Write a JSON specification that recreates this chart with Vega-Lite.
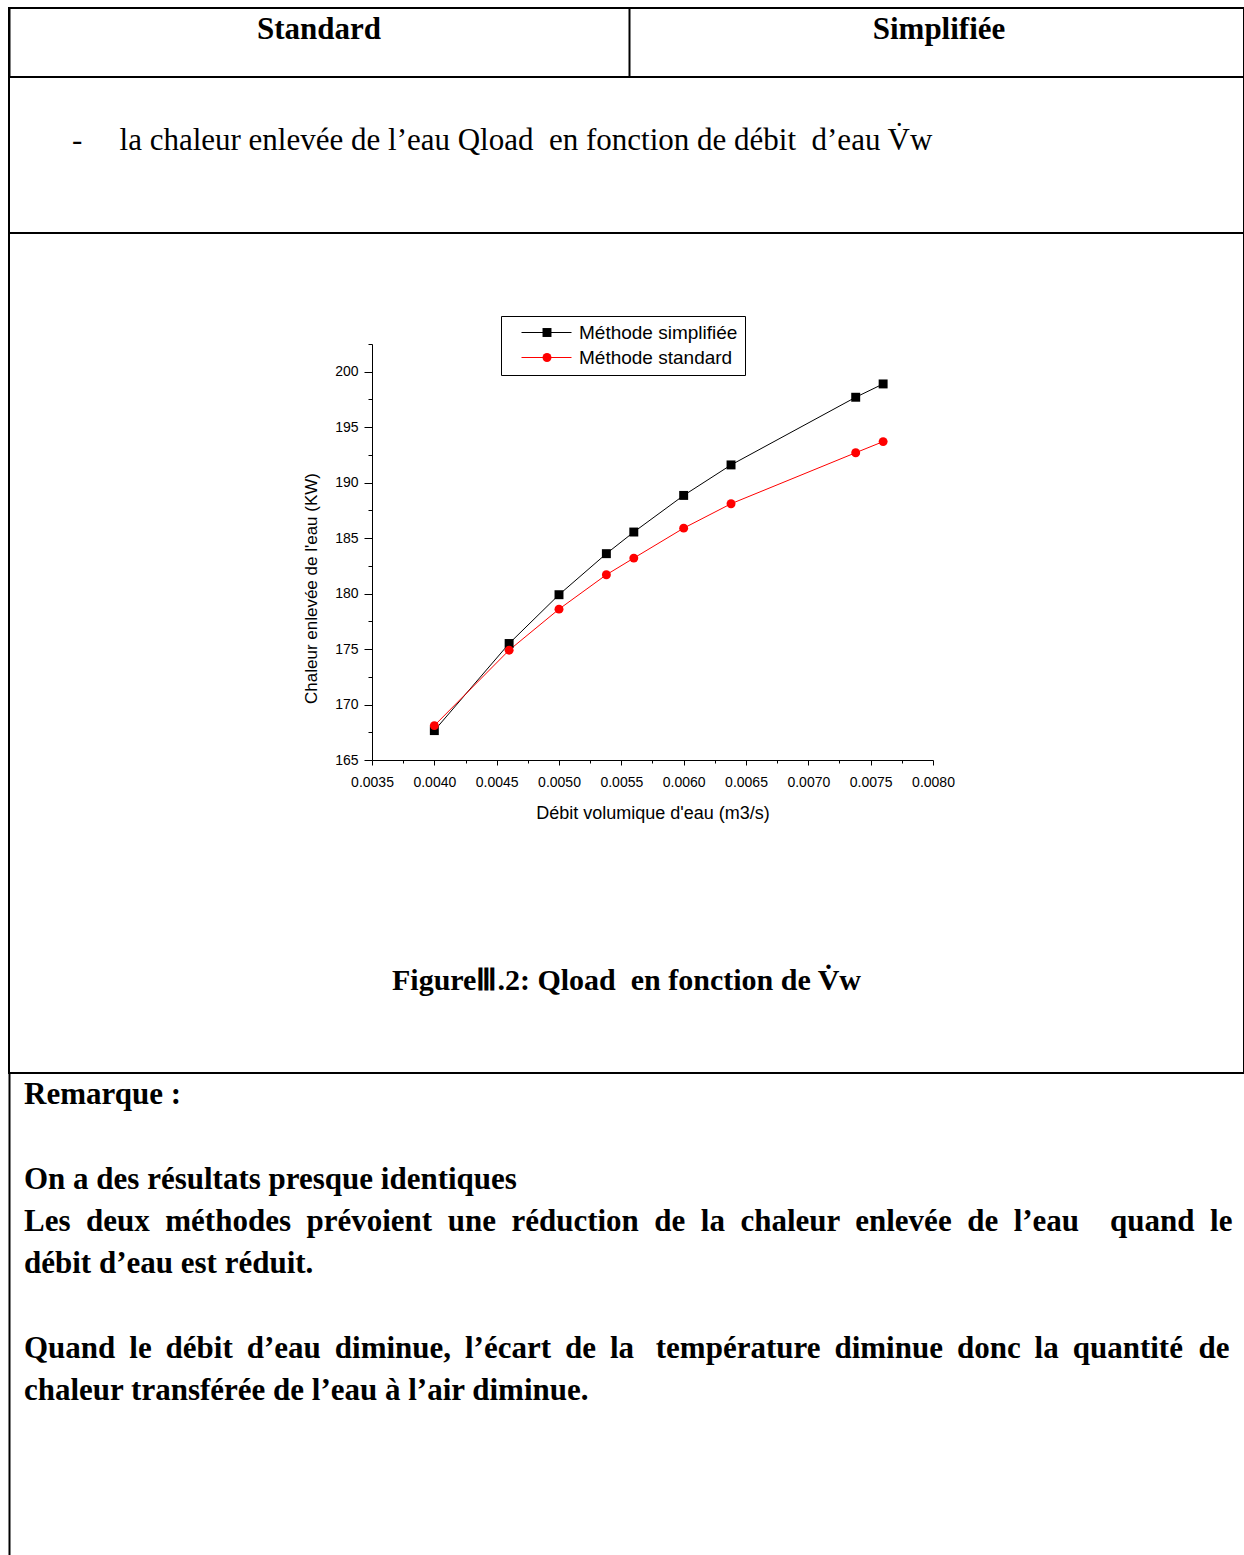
{
  "$schema": "https://vega.github.io/schema/vega-lite/v6.json",
  "background": "white",
  "padding": {"left": 8, "top": 7, "right": 0, "bottom": 0},
  "spacing": 0,
  "bounds": "flush",
  "config": {
    "view": {"stroke": "black", "strokeWidth": 2},
    "concat": {"spacing": 0}
  },
  "vconcat": [
    {
      "width": 1235,
      "height": 69,
      "data": {"values": [{"entete": "Standard"}, {"entete": "Simplifiée"}]},
      "mark": {"type": "text", "font": "Liberation Serif", "fontSize": 31, "fontWeight": "bold", "color": "black", "baseline": "alphabetic", "align": "center"},
      "encoding": {
        "text": {"field": "entete"},
        "x": {
          "field": "entete",
          "type": "nominal",
          "sort": null,
          "scale": {"type": "band", "range": [0, 1240], "paddingInner": 0, "paddingOuter": 0},
          "axis": {"orient": "top", "grid": true, "bandPosition": 0, "gridColor": "black", "gridWidth": 2, "gridOpacity": 1, "labels": false, "ticks": false, "domain": false, "title": null}
        },
        "y": {"value": 31}
      }
    },
    {
      "width": 1235,
      "height": 156,
      "data": {"values": [{"phrase": "-\u2003\u2009la chaleur enlevée de l’eau Qload \u00a0en fonction de débit \u00a0d’eau V\u0307w"}]},
      "mark": {"type": "text", "font": "Liberation Serif", "fontSize": 31, "color": "black", "baseline": "alphabetic", "align": "left"},
      "encoding": {"text": {"field": "phrase"}, "x": {"value": 63}, "y": {"value": 73}}
    },
    {
      "width": 1235,
      "height": 840,
      "data": {
        "values": [
          {"debit": 0.0040, "chaleur": 167.65, "methode": "Méthode simplifiée"},
          {"debit": 0.0046, "chaleur": 175.5, "methode": "Méthode simplifiée"},
          {"debit": 0.0050, "chaleur": 179.9, "methode": "Méthode simplifiée"},
          {"debit": 0.00538, "chaleur": 183.6, "methode": "Méthode simplifiée"},
          {"debit": 0.0056, "chaleur": 185.55, "methode": "Méthode simplifiée"},
          {"debit": 0.0060, "chaleur": 188.85, "methode": "Méthode simplifiée"},
          {"debit": 0.00638, "chaleur": 191.6, "methode": "Méthode simplifiée"},
          {"debit": 0.00738, "chaleur": 197.7, "methode": "Méthode simplifiée"},
          {"debit": 0.0076, "chaleur": 198.9, "methode": "Méthode simplifiée"},
          {"debit": 0.0040, "chaleur": 168.1, "methode": "Méthode standard"},
          {"debit": 0.0046, "chaleur": 174.9, "methode": "Méthode standard"},
          {"debit": 0.0050, "chaleur": 178.6, "methode": "Méthode standard"},
          {"debit": 0.00538, "chaleur": 181.7, "methode": "Méthode standard"},
          {"debit": 0.0056, "chaleur": 183.2, "methode": "Méthode standard"},
          {"debit": 0.0060, "chaleur": 185.9, "methode": "Méthode standard"},
          {"debit": 0.00638, "chaleur": 188.1, "methode": "Méthode standard"},
          {"debit": 0.00738, "chaleur": 192.7, "methode": "Méthode standard"},
          {"debit": 0.0076, "chaleur": 193.7, "methode": "Méthode standard"}
        ]
      },
      "layer": [
        {
          "mark": {"type": "line", "strokeWidth": 1},
          "encoding": {
            "x": {
              "field": "debit",
              "type": "quantitative",
              "scale": {"domain": [0.0035, 0.008], "range": [363, 924], "zero": false, "nice": false},
              "axis": {
                "values": [0.0035, 0.00375, 0.004, 0.00425, 0.0045, 0.00475, 0.005, 0.00525, 0.0055, 0.00575, 0.006, 0.00625, 0.0065, 0.00675, 0.007, 0.00725, 0.0075, 0.00775, 0.008],
                "format": ".4f",
                "labelExpr": "abs(datum.value * 2000 - round(datum.value * 2000)) < 0.01 ? datum.label : ''",
                "tickSize": {"condition": {"test": "abs(datum.value * 2000 - round(datum.value * 2000)) < 0.01", "value": 5}, "value": 3},
                "offset": -313,
                "grid": false,
                "domainColor": "black",
                "domainWidth": 1,
                "tickColor": "black",
                "tickWidth": 1,
                "labelColor": "black",
                "labelFont": "Liberation Sans",
                "labelFontSize": 14,
                "labelPadding": 10,
                "labelFlush": false,
                "labelOverlap": false,
                "title": "Débit volumique d'eau (m3/s)",
                "titleFont": "Liberation Sans",
                "titleFontSize": 18,
                "titleFontWeight": "normal",
                "titleColor": "black",
                "titleBaseline": "middle",
                "titleY": 53
              }
            },
            "y": {
              "field": "chaleur",
              "type": "quantitative",
              "scale": {"domain": [165, 202.5], "range": [527, 111], "zero": false, "nice": false},
              "axis": {
                "values": [165, 167.5, 170, 172.5, 175, 177.5, 180, 182.5, 185, 187.5, 190, 192.5, 195, 197.5, 200, 202.5],
                "format": "d",
                "labelExpr": "datum.value % 5 == 0 ? datum.label : ''",
                "tickSize": {"condition": {"test": "datum.value % 5 == 0", "value": 8}, "value": 4},
                "offset": -363,
                "grid": false,
                "domainColor": "black",
                "domainWidth": 1,
                "tickColor": "black",
                "tickWidth": 1,
                "labelColor": "black",
                "labelFont": "Liberation Sans",
                "labelFontSize": 14,
                "labelPadding": 6,
                "labelFlush": false,
                "labelOverlap": false,
                "title": "Chaleur enlevée de l'eau (KW)",
                "titleFont": "Liberation Sans",
                "titleFontSize": 17,
                "titleFontWeight": "normal",
                "titleColor": "black",
                "titleBaseline": "middle",
                "titleAlign": "center",
                "titleX": -61,
                "titleY": 355
              }
            },
            "color": {
              "field": "methode",
              "type": "nominal",
              "scale": {"range": ["black", "#ff0000"]},
              "legend": {
                "title": null,
                "orient": "none",
                "legendX": 492,
                "legendY": 308,
                "padding": 7,
                "strokeColor": "black",
                "symbolType": "M0.8,0L10.8,0",
                "symbolSize": 100,
                "symbolStrokeWidth": 1,
                "labelFont": "Liberation Sans",
                "labelFontSize": 19,
                "labelColor": "black",
                "labelOffset": 52,
                "labelLimit": 400,
                "rowPadding": 5
              }
            }
          }
        },
        {
          "mark": {"type": "point", "filled": true, "size": 80, "opacity": 1},
          "encoding": {
            "x": {"field": "debit", "type": "quantitative"},
            "y": {"field": "chaleur", "type": "quantitative"},
            "fill": {
              "field": "methode",
              "type": "nominal",
              "scale": {"domain": ["Méthode simplifiée", "Méthode standard"], "range": ["black", "#ff0000"]},
              "legend": {
                "title": null,
                "orient": "none",
                "legendX": 492,
                "legendY": 308,
                "padding": 7,
                "symbolOffset": 29.5,
                "symbolSize": 80,
                "symbolStrokeWidth": 0,
                "labelFont": "Liberation Sans",
                "labelFontSize": 19,
                "labelExpr": "''",
                "labelOffset": 52,
                "rowPadding": 5
              }
            },
            "shape": {
              "field": "methode",
              "type": "nominal",
              "scale": {"domain": ["Méthode simplifiée", "Méthode standard"], "range": ["square", "circle"]},
              "legend": {
                "title": null,
                "orient": "none",
                "legendX": 492,
                "legendY": 308,
                "padding": 7,
                "symbolOffset": 29.5,
                "symbolSize": 80,
                "symbolStrokeWidth": 0,
                "labelFont": "Liberation Sans",
                "labelFontSize": 19,
                "labelExpr": "''",
                "labelOffset": 52,
                "rowPadding": 5
              }
            }
          }
        },
        {
          "data": {"values": [{"legende": "FigureⅢ.2: Qload \u00a0en fonction de V\u0307w"}]},
          "mark": {"type": "text", "font": "Liberation Serif", "fontSize": 30, "fontWeight": "bold", "color": "black", "baseline": "alphabetic", "align": "center"},
          "encoding": {"text": {"field": "legende"}, "y": {"value": 757}}
        }
      ]
    },
    {
      "width": 1235,
      "height": 483,
      "view": {"stroke": null},
      "data": {
        "values": [
          {"ligne": 0, "texte": "Remarque :"},
          {"ligne": 2, "texte": "On a des résultats presque identiques"},
          {"ligne": 3, "texte": "Les \u00a0deux \u00a0méthodes \u00a0prévoient \u00a0une \u00a0réduction \u00a0de \u00a0la \u00a0chaleur \u00a0enlevée \u00a0de \u00a0l’eau \u00a0\u00a0 quand \u00a0le"},
          {"ligne": 4, "texte": "débit d’eau est réduit."},
          {"ligne": 6, "texte": "Quand \u2009le \u2009débit \u2009d’eau \u2009diminue, \u2009l’écart \u2009de \u2009la \u00a0\u2009température \u2009diminue \u2009donc \u2009la \u2009quantité \u00a0de"},
          {"ligne": 7, "texte": "chaleur transférée de l’eau à l’air diminue."}
        ]
      },
      "mark": {"type": "text", "font": "Liberation Serif", "fontSize": 31, "fontWeight": "bold", "color": "black", "baseline": "alphabetic", "align": "left"},
      "encoding": {
        "text": {"field": "texte"},
        "x": {"value": 15},
        "y": {
          "field": "ligne",
          "type": "quantitative",
          "scale": {"domain": [-0.7323, 10.678], "range": [0, 483], "zero": false, "nice": false},
          "axis": {"orient": "left", "domain": true, "domainColor": "black", "domainWidth": 2, "domainOpacity": 1, "labels": false, "ticks": false, "grid": false, "title": null}
        }
      }
    }
  ]
}
